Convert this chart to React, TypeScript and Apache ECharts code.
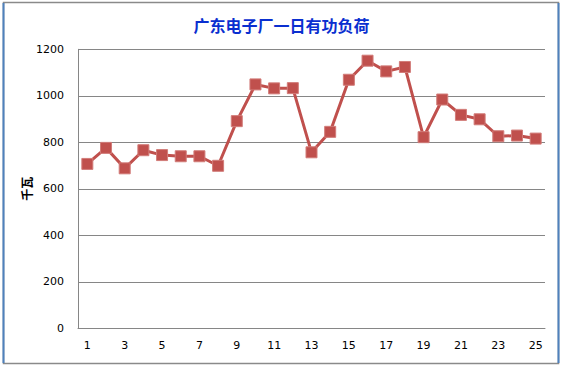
import React, { useEffect, useRef } from "react";
import * as echarts from "echarts";

const categories = ["1","2","3","4","5","6","7","8","9","10","11","12","13","14","15","16","17","18","19","20","21","22","23","24","25"];
const loadValues = [707, 776, 688, 766, 745, 740, 740, 699, 891, 1049, 1032, 1033, 757, 845, 1069, 1151, 1105, 1124, 822, 984, 918, 899, 826, 829, 816];
const titleText = "广东电子厂一日有功负荷";
const yName = "千瓦";

export default function App() {
  const ref = useRef<HTMLDivElement>(null);
  useEffect(() => {
    if (!ref.current) return;
    const chart = echarts.init(ref.current, null, { renderer: "svg" });
    chart.setOption({
      animation: false,
      backgroundColor: "#ffffff",
      title: {
        text: titleText,
        left: "center",
        top: 12,
        textStyle: { color: "#0a2fd0", fontSize: 16, fontWeight: "bold", fontFamily: "Noto Sans CJK SC" },
      },
      graphic: [
        { type: "rect", shape: { x: 3.5, y: 2.5, width: 555, height: 361 }, style: { fill: "none", stroke: "#8a8a8a", lineWidth: 1.5 } },
        { type: "line", shape: { x1: 3.5, y1: 3, x2: 3.5, y2: 363 }, style: { stroke: "#4f81bd", lineWidth: 2 } },
        { type: "line", shape: { x1: 558.5, y1: 3, x2: 558.5, y2: 363 }, style: { stroke: "#4f81bd", lineWidth: 2 } },
      ],
      grid: { left: 78, right: 18, top: 49.3, bottom: 368 - 328.3, containLabel: false },
      xAxis: {
        type: "category",
        data: categories,
        boundaryGap: true,
        axisLine: { lineStyle: { color: "#868686", width: 1 } },
        axisTick: { show: false },
        axisLabel: { interval: 1, color: "#000", fontSize: 11, fontFamily: "DejaVu Sans", margin: 12 },
      },
      yAxis: {
        type: "value",
        min: 0,
        max: 1200,
        interval: 200,
        name: yName,
        nameLocation: "middle",
        nameGap: 46,
        nameMoveOverlap: false,
        nameTextStyle: { color: "#000", fontSize: 12, fontWeight: "bold", fontFamily: "Noto Sans CJK SC" },
        axisLine: { show: true, lineStyle: { color: "#868686", width: 1 } },
        axisTick: { show: false },
        splitLine: { lineStyle: { color: "#868686", width: 1 } },
        axisLabel: { color: "#000", fontSize: 11, fontFamily: "DejaVu Sans", margin: 14, formatter: (v: number) => String(v) },
      },
      series: [
        {
          type: "line",
          data: loadValues,
          symbol: "rect",
          symbolSize: 11,
          lineStyle: { color: "#c0504d", width: 3 },
          itemStyle: { color: "#c0504d", borderColor: "#d27c79", borderWidth: 1 },
        },
      ],
    });
    return () => chart.dispose();
  }, []);
  return <div ref={ref} style={{ position: "fixed", left: 0, top: 0, width: 563, height: 368 }} />;
}
